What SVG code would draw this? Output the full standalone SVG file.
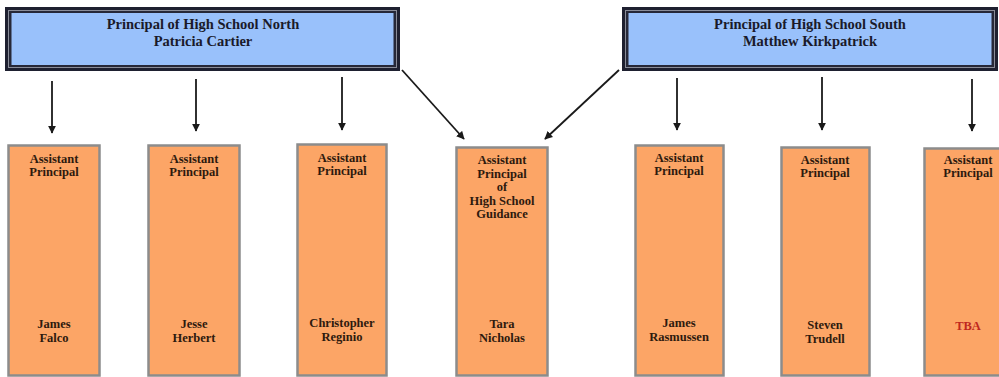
<svg xmlns="http://www.w3.org/2000/svg" width="999" height="377" viewBox="0 0 999 377">
  <defs>
    <marker id="arrow" viewBox="0 0 10 10" refX="9" refY="5" markerWidth="4.5" markerHeight="4.5" orient="auto" markerUnits="strokeWidth">
      <path d="M0,0 L10,5 L0,10 z" fill="#1a1a1a"/>
    </marker>
  </defs>
  <style>
    .frame-out { fill: #1e2030; }
    .frame-mid { fill: #8a8d99; }
    .frame-in { fill: #262838; }
    .head-fill { fill: #99c1fb; }
    .head-text { font-family: "Liberation Serif", "Times New Roman", serif; font-weight: bold; font-size: 14.5px; fill: #1a1a2a; text-anchor: middle; }
    .ap { fill: #fca566; stroke: #8c8c8c; stroke-width: 2.5; }
    .ap-text { font-family: "Liberation Serif", "Times New Roman", serif; font-weight: bold; font-size: 12.5px; fill: #2e1a0e; text-anchor: middle; }
    .tba { fill: #c0281e; }
    .link { stroke: #1a1a1a; stroke-width: 1.8; fill: none; marker-end: url(#arrow); }
  </style>

  <rect width="999" height="377" fill="#ffffff"/>

  <!-- Principals -->
  <g id="principal-north">
    <rect class="frame-out" x="5" y="7" width="395" height="64"/>
    <rect class="frame-mid" x="8" y="10" width="389" height="58"/>
    <rect class="frame-in" x="9" y="11" width="387" height="56"/>
    <rect class="head-fill" x="11.5" y="13" width="382" height="52"/>
    <text class="head-text" x="203" y="29">Principal of High School North</text>
    <text class="head-text" x="203" y="46">Patricia Cartier</text>
  </g>

  <g id="principal-south">
    <rect class="frame-out" x="622" y="7" width="376" height="64"/>
    <rect class="frame-mid" x="625" y="10" width="370" height="58"/>
    <rect class="frame-in" x="626" y="11" width="368" height="56"/>
    <rect class="head-fill" x="628.5" y="13" width="363" height="52"/>
    <text class="head-text" x="810" y="29">Principal of High School South</text>
    <text class="head-text" x="810" y="46">Matthew Kirkpatrick</text>
  </g>

  <!-- Reporting lines -->
  <g id="connectors">
    <line class="link" x1="52" y1="81" x2="52" y2="133"/>
    <line class="link" x1="196" y1="79" x2="196" y2="131"/>
    <line class="link" x1="342" y1="77" x2="342" y2="130"/>
    <line class="link" x1="402" y1="70" x2="464" y2="139"/>
    <line class="link" x1="619" y1="70" x2="545" y2="139"/>
    <line class="link" x1="677" y1="78" x2="677" y2="130"/>
    <line class="link" x1="822" y1="77" x2="822" y2="130"/>
    <line class="link" x1="972" y1="79" x2="972" y2="131"/>
  </g>

  <!-- Assistant principals -->
  <g id="ap-falco">
    <rect class="ap" x="8.5" y="145.5" width="91" height="230"/>
    <text class="ap-text" x="54" y="163">Assistant</text>
    <text class="ap-text" x="54" y="176">Principal</text>
    <text class="ap-text" x="54" y="328">James</text>
    <text class="ap-text" x="54" y="342">Falco</text>
  </g>

  <g id="ap-herbert">
    <rect class="ap" x="148.5" y="145.5" width="91" height="230"/>
    <text class="ap-text" x="194" y="163">Assistant</text>
    <text class="ap-text" x="194" y="176">Principal</text>
    <text class="ap-text" x="194" y="328">Jesse</text>
    <text class="ap-text" x="194" y="342">Herbert</text>
  </g>

  <g id="ap-reginio">
    <rect class="ap" x="297.5" y="144.5" width="89" height="231"/>
    <text class="ap-text" x="342" y="162">Assistant</text>
    <text class="ap-text" x="342" y="175">Principal</text>
    <text class="ap-text" x="342" y="327">Christopher</text>
    <text class="ap-text" x="342" y="341">Reginio</text>
  </g>

  <g id="ap-guidance">
    <rect class="ap" x="456.5" y="147.5" width="91" height="228"/>
    <text class="ap-text" x="502" y="164">Assistant</text>
    <text class="ap-text" x="502" y="178">Principal</text>
    <text class="ap-text" x="502" y="191">of</text>
    <text class="ap-text" x="502" y="205">High School</text>
    <text class="ap-text" x="502" y="218">Guidance</text>
    <text class="ap-text" x="502" y="328">Tara</text>
    <text class="ap-text" x="502" y="342">Nicholas</text>
  </g>

  <g id="ap-rasmussen">
    <rect class="ap" x="635.5" y="145.5" width="88" height="230"/>
    <text class="ap-text" x="679" y="162">Assistant</text>
    <text class="ap-text" x="679" y="175">Principal</text>
    <text class="ap-text" x="679" y="327">James</text>
    <text class="ap-text" x="679" y="341">Rasmussen</text>
  </g>

  <g id="ap-trudell">
    <rect class="ap" x="781.5" y="147.5" width="88" height="228"/>
    <text class="ap-text" x="825" y="164">Assistant</text>
    <text class="ap-text" x="825" y="177">Principal</text>
    <text class="ap-text" x="825" y="329">Steven</text>
    <text class="ap-text" x="825" y="343">Trudell</text>
  </g>

  <g id="ap-tba">
    <rect class="ap" x="924.5" y="148.5" width="90" height="227"/>
    <text class="ap-text" x="968" y="164">Assistant</text>
    <text class="ap-text" x="968" y="177">Principal</text>
    <text class="ap-text tba" x="968" y="330">TBA</text>
  </g>
</svg>
